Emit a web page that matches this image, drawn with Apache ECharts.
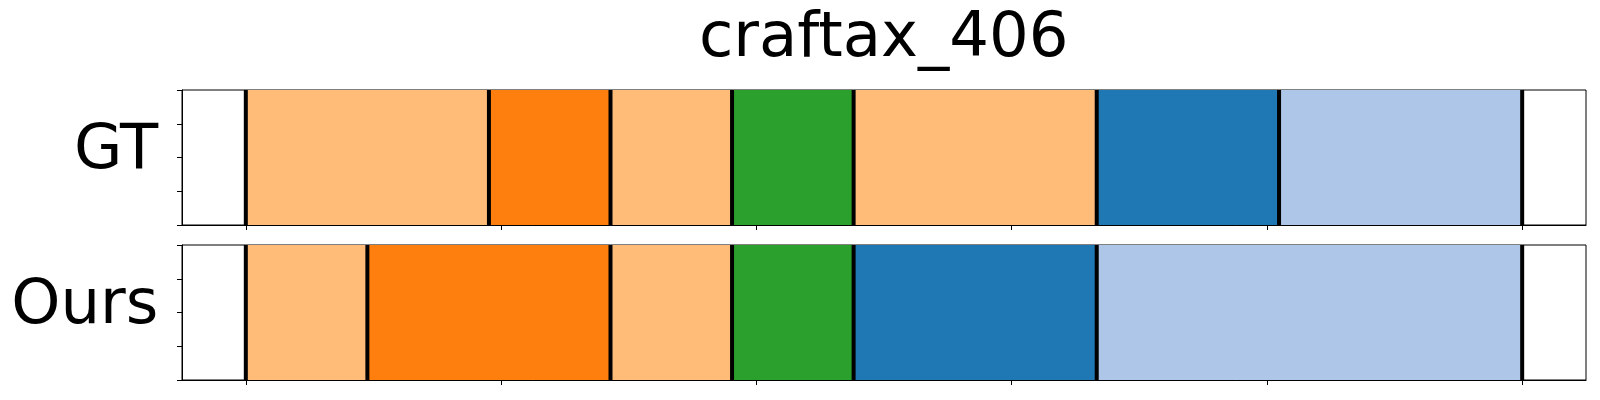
<!DOCTYPE html>
<html>
<head>
<meta charset="utf-8">
<script src="https://cdn.jsdelivr.net/npm/echarts@6/dist/echarts.min.js"></script>
<style>
  html, body { margin: 0; padding: 0; background: #fff; }
  #chart { width: 1600px; height: 400px; }
</style>
</head>
<body>
<div id="chart"></div>
<script>
// ---- data ----
const chartTitle = 'craftax_406';
const rowNames = ['GT', 'Ours'];
const totalSteps = 21;
// segment boundaries (in steps) and class of each segment
const gtBoundaries = [0, 4, 6, 8, 10, 14, 17, 21];
const gtClasses = ['lightorange', 'orange', 'lightorange', 'green', 'lightorange', 'blue', 'lightblue'];
const oursBoundaries = [0, 2, 6, 8, 10, 14, 21];
const oursClasses = ['lightorange', 'orange', 'lightorange', 'green', 'blue', 'lightblue'];
const xTickValues = [0, 0.2, 0.4, 0.6, 0.8, 1.0];
const yTickInterval = 0.25;

const classColors = {
  lightorange: '#ffbb78',
  orange: '#ff7f0e',
  green: '#2ca02c',
  blue: '#1f77b4',
  lightblue: '#aec7e8'
};
const classList = Object.keys(classColors);

function segData(bounds, classes) {
  const out = [];
  for (let i = 0; i < classes.length; i++) {
    out.push([bounds[i] / totalSteps, bounds[i + 1] / totalSteps, classList.indexOf(classes[i])]);
  }
  return out;
}

const FONT = '"DejaVu Sans", sans-serif';
const gridLeft = 182, gridWidth = 1404, gridH = 135;
const gridTops = [90, 245];

const chart = echarts.init(document.getElementById('chart'), null, { renderer: 'canvas' });

const grids = gridTops.map(t => ({
  left: gridLeft, width: gridWidth, top: t, height: gridH,
  show: true, borderColor: '#000', borderWidth: 1, backgroundColor: '#fff'
}));

const xAxes = gridTops.map((t, i) => ({
  type: 'value', gridIndex: i, min: -0.05, max: 1.05,
  axisLine: { show: true, onZero: false, lineStyle: { color: '#000', width: 1 } },
  axisTick: { show: true, length: 5, lineStyle: { color: '#000', width: 1 }, customValues: xTickValues },
  axisLabel: { show: false, customValues: xTickValues },
  splitLine: { show: false }
}));

const yAxes = gridTops.map((t, i) => ({
  type: 'value', gridIndex: i, min: 0, max: 1, interval: yTickInterval,
  axisLine: { show: true, onZero: false, lineStyle: { color: '#000', width: 1 } },
  axisTick: { show: true, length: 5, lineStyle: { color: '#000', width: 1 } },
  axisLabel: { show: false },
  splitLine: { show: false }
}));

function renderSeg(params, api) {
  const s = api.coord([api.value(0), 1]);
  const e = api.coord([api.value(1), 0]);
  return {
    type: 'rect',
    shape: { x: s[0], y: s[1], width: e[0] - s[0], height: e[1] - s[1] },
    style: { fill: classColors[classList[api.value(2)]] }
  };
}

function renderLine(params, api) {
  const top = api.coord([api.value(0), 1]);
  const bot = api.coord([api.value(0), 0]);
  return {
    type: 'line',
    shape: { x1: top[0], y1: top[1], x2: bot[0], y2: bot[1] },
    style: { stroke: '#000', lineWidth: 4 }
  };
}

function makeSeries(idx, bounds, classes) {
  return [{
    type: 'custom',
    xAxisIndex: idx, yAxisIndex: idx,
    renderItem: renderSeg,
    encode: { x: [0, 1] },
    data: segData(bounds, classes),
    clip: true,
    silent: true,
    z: 2
  }, {
    type: 'custom',
    xAxisIndex: idx, yAxisIndex: idx,
    renderItem: renderLine,
    encode: { x: 0 },
    data: bounds.map(b => [b / totalSteps]),
    clip: false,
    silent: true,
    z: 3
  }];
}

const option = {
  animation: false,
  backgroundColor: '#fff',
  grid: grids,
  xAxis: xAxes,
  yAxis: yAxes,
  series: [].concat(
    makeSeries(0, gtBoundaries, gtClasses),
    makeSeries(1, oursBoundaries, oursClasses)
  ),
  graphic: [
    { type: 'text', x: 883.7, y: 40.1, style: { text: chartTitle, font: '62.5px ' + FONT, fill: '#000', textAlign: 'center', textVerticalAlign: 'middle' } },
    { type: 'text', x: 158.3, y: 151.4, style: { text: rowNames[0], font: '62.5px ' + FONT, fill: '#000', textAlign: 'right', textVerticalAlign: 'middle' } },
    { type: 'text', x: 158.3, y: 306.6, style: { text: rowNames[1], font: '62.5px ' + FONT, fill: '#000', textAlign: 'right', textVerticalAlign: 'middle' } }
  ]
};
chart.setOption(option);
</script>
</body>
</html>
